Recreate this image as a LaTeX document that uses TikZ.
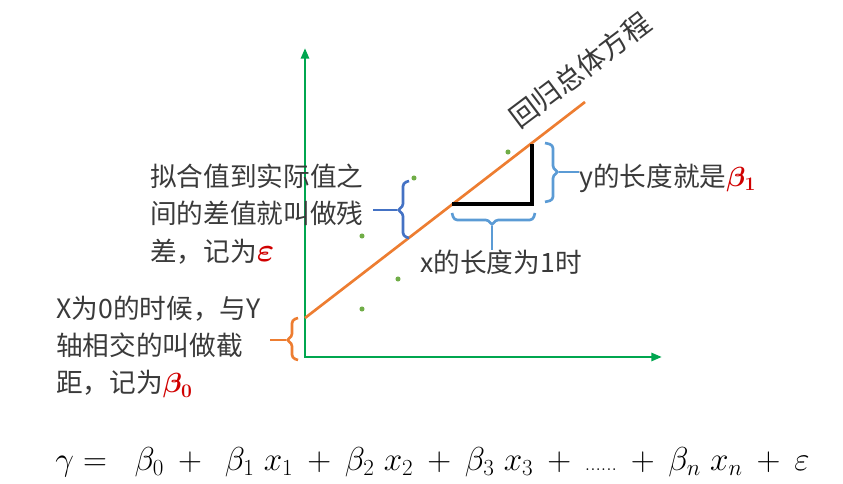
\documentclass[tikz,border=0pt]{standalone}
\usepackage{fontspec}
\usepackage{amsmath}
\usepackage{tikz}
\usetikzlibrary{arrows.meta}
\newfontfamily\cjk{Noto Sans CJK SC}
\definecolor{axisgreen}{HTML}{00A64F}
\definecolor{lineorange}{HTML}{ED7D31}
\definecolor{dotgreen}{HTML}{70AD47}
\definecolor{darkblue}{HTML}{4472C4}
\definecolor{lightblue}{HTML}{5B9BD5}
\definecolor{hlred}{HTML}{D00000}
\definecolor{textgray}{HTML}{3A3A3A}
\newcommand{\hlsym}[2][22]{{\color{hlred}\fontsize{#1}{#1}\selectfont$\boldsymbol{#2}$}}

\begin{document}
\begin{tikzpicture}[
  x=0.75pt, y=-0.75pt,
  every node/.style={font=\cjk\fontsize{20}{28}\selectfont, text=textgray, inner sep=0pt},
  axis/.style={{Triangle[length=8pt,width=6pt]}-{Triangle[length=8pt,width=6pt]}, line width=2.2pt, draw=axisgreen},
  fitline/.style={line width=2pt, draw=lineorange},
  stepline/.style={line width=2.4pt, draw=black},
  brace/.style={line width=2pt, rounded corners=2.5pt},
  sample/.style={circle, fill=dotgreen, inner sep=0pt, minimum size=3.8pt},
]
\useasboundingbox (0,0) rectangle (843,484);

% Axes
\coordinate (origin) at (305,357);
\coordinate (ytip)   at (305,48);
\coordinate (xtip)   at (662,357);
\draw[axis] (ytip) -- (origin) -- (xtip);

% Regression line and slope step
\coordinate (icpt)    at (305,318);
\coordinate (lineend) at (585,102);
\draw[fitline] (icpt) -- (lineend);
\coordinate (runA)  at (452,204);
\coordinate (runB)  at (532,204);
\coordinate (riseB) at (532,144);
\draw[stepline] (runA) -- (runB) -- (riseB);

% Samples
\foreach \px/\py [count=\i] in {508/152, 414/178, 362/236, 398/279, 362/309}
  \node[sample] (pt\i) at (\px,\py) {};

% Labels
\node[rotate=37, font=\cjk\fontsize{21}{21}\selectfont] (title) at (580,70) {回归总体方程};
\node[anchor=west, align=left] (resid) at (150,214)
  {拟合值到实际值之\\间的差值就叫做残\\差，记为\hlsym[26]{\varepsilon}};
\node[anchor=west, align=left] (icptlbl) at (56,347)
  {X为0的时候，与Y\\轴相交的叫做截\\距，记为\hlsym{\beta_0}};
\node[anchor=west] (slopelbl) at (579,178) {y的长度就是\hlsym{\beta_1}};
\node[anchor=north west] (runlbl) at (420,250) {x的长度为1时};

% Braces
\coordinate (residtip) at (397,210);
\draw[brace, draw=darkblue] (409,181) -- (403,183) -- (403,207) -- (residtip)
  -- (403,213) -- (403,236) -- (409,238);
\draw[brace, draw=darkblue] (residtip) -- ([xshift=7pt]resid.east |- residtip);
\coordinate (icpttip) at (286,340);
\draw[brace, draw=lineorange] (298,318) -- (292,320) -- (292,337) -- (icpttip)
  -- (292,343) -- (292,358) -- (298,360);
\draw[brace, draw=lineorange] (icpttip) -- ([xshift=7pt]icptlbl.east |- icpttip);
\coordinate (slopetip) at (559,172);
\draw[brace, draw=lightblue] (545,143) -- (553,145) -- (553,169) -- (slopetip)
  -- (553,175) -- (553,200) -- (545,202);
\draw[brace, draw=lightblue] (slopetip) -- (slopelbl.west |- slopetip);
\coordinate (runtip) at (492,226);
\draw[brace, draw=lightblue] (452,213) -- (454,220) -- (489,220) -- (runtip)
  -- (495,220) -- (533,220) -- (535,213);
\draw[brace, draw=lightblue] (runtip) -- (runtip |- runlbl.north);

% Model equation
\node[anchor=west, font=\fontsize{26}{26}\selectfont, text=black] (model) at (55,462)
  {\medmuskip=7.5mu $\gamma =\;\; \beta_0 +\; \beta_1\; x_1 + \beta_2\; x_2 + \beta_3\; x_3 + \text{\fontsize{16}{16}\selectfont......} + \beta_n\; x_n + \varepsilon$};

\end{tikzpicture}
\end{document}
